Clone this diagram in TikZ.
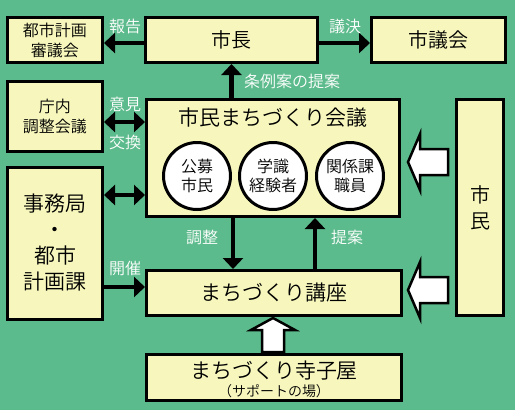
\documentclass[tikz,border=0pt]{standalone}
\usepackage{fontspec}
\setmainfont{Noto Sans CJK JP}[UprightFont={* DemiLight}]
\usetikzlibrary{arrows.meta}
\definecolor{bggreen}{RGB}{92,187,140}
\definecolor{boxyellow}{RGB}{247,247,189}
\begin{document}
\begin{tikzpicture}[x=1pt,y=-1pt,
		box/.style={draw,line width=3pt,fill=boxyellow,inner sep=0pt,align=center,font=\fontsize{20}{26}\selectfont},
		member/.style={circle,draw,line width=3pt,fill=white,minimum size=67pt,inner sep=0pt,align=center,font=\fontsize{16}{19}\selectfont},
		lbl/.style={text=white,font=\fontsize{16}{19}\selectfont},
		arr/.style={line width=4.5pt,-{Triangle[length=11pt,width=20pt]}},
		dblarr/.style={line width=4.5pt,{Triangle[length=11pt,width=20pt]}-{Triangle[length=11pt,width=20pt]}},
		blockarr/.style={draw,line width=2.5pt,fill=white,line join=miter}]
	\def\leftarr#1{
		\draw[blockarr] (408,#1) -- (420,#1-28) -- (420,#1-13) -- (448,#1-13) -- (448,#1+13) -- (420,#1+13) -- (420,#1+28) -- cycle;
	}
	\useasboundingbox (0,0) rectangle (515,410);
	\fill[bggreen] (0,0) rectangle (515,410);
	% boxes
	\node[box,minimum width=95pt,minimum height=45pt,font=\fontsize{16}{20}\selectfont] (shingi) at (55,40) {都市計画\\審議会};
	\node[box,minimum width=172pt,minimum height=45pt] (shicho) at (231.5,40) {市長};
	\node[box,minimum width=134pt,minimum height=45pt] (gikai) at (438.5,40) {市議会};
	\node[box,minimum width=95pt,minimum height=70pt,font=\fontsize{16}{20}\selectfont] (chonai) at (55,116.5) {庁内\\調整会議};
	\node[box,minimum width=253pt,minimum height=117pt] (kaigi) at (273,158) {};
	\node[font=\fontsize{21}{25}\selectfont] (kaigititle) at (273,118) {市民まちづくり会議};
	\node[box,minimum width=95pt,minimum height=152pt,font=\fontsize{21}{26}\selectfont] (jimu) at (55,243) {事務局\\・\\都市\\計画課};
	\node[box,minimum width=255pt,minimum height=45pt,font=\fontsize{21}{25}\selectfont] (koza) at (274,293) {まちづくり講座};
	\node[box,minimum width=47pt,minimum height=216pt,font=\fontsize{20}{26}\selectfont] (shimin) at (480,207.5) {市\\民};
	\node[box,minimum width=255pt,minimum height=46pt] (terakoya) at (274,377.5) {};
	\node[font=\fontsize{21}{25}\selectfont] (terakoyatitle) at (274,371) {まちづくり寺子屋};
	\node[font=\fontsize{14}{17}\selectfont] (support) at (274,391) {（サポートの場）};
	% members
	\node[member] (koubo) at (197,176) {公募\\市民};
	\node[member] (gakushiki) at (273,176) {学識\\経験者};
	\node[member] (kankei) at (350,176) {関係課\\職員};
	% connectors
	\coordinate (chosei) at (233,0);
	\coordinate (teian) at (315,0);
	\draw[arr] (shicho.west |- 0,43) -- (shingi.east |- 0,43);
	\draw[arr] (shicho.east |- 0,43) -- (gikai.west |- 0,43);
	\draw[arr] (kaigi.north -| shicho.south) -- (shicho.south);
	\draw[dblarr] (chonai.east |- 0,122) -- (kaigi.west |- 0,122);
	\draw[dblarr] (jimu.east |- 0,195) -- (kaigi.west |- 0,195);
	\draw[arr] (jimu.east |- 0,287) -- (koza.west |- 0,287);
	\draw[arr] (kaigi.south -| chosei) -- (koza.north -| chosei);
	\draw[arr] (koza.north -| teian) -- (kaigi.south -| teian);
	% labels
	\node[lbl] (lhoukoku) at (125,26) {報告};
	\node[lbl] (lgiketsu) at (345,26) {議決};
	\node[lbl] (ljourei) at (292,81) {条例案の提案};
	\node[lbl] (liken) at (125,104) {意見};
	\node[lbl] (lkoukan) at (125,142) {交換};
	\node[lbl] (lkaisai) at (125,268) {開催};
	\node[lbl] (lchosei) at (202,237) {調整};
	\node[lbl] (lteian) at (347,237) {提案};
	% block arrows
	\leftarr{162}
	\leftarr{290}
	\draw[blockarr] (273,318) -- (251,330) -- (262,330) -- (262,352) -- (284,352) -- (284,330) -- (295,330) -- cycle;
\end{tikzpicture}
\end{document}
